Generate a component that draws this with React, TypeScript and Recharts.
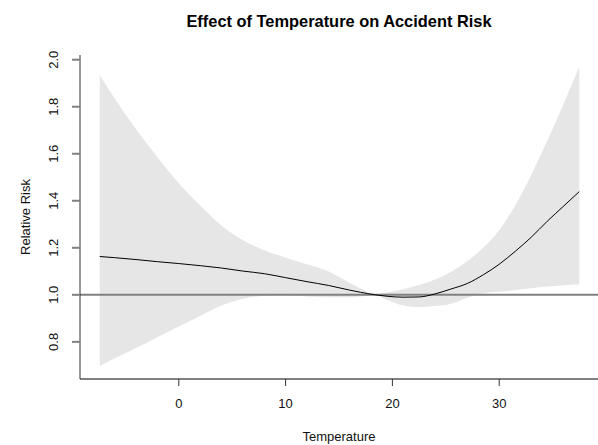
import { Area, ComposedChart, Line, ReferenceLine, XAxis, YAxis } from "recharts";

const temperature = [-7.4, -6, -4, -2, 0, 2, 4, 6, 8, 10, 12, 14, 16, 17, 18.4, 19.5, 21, 22.5, 24, 25.5, 27, 28.5, 30, 31.5, 33, 34.5, 36, 37.5];
const relativeRisk = [1.163, 1.158, 1.15, 1.141, 1.133, 1.124, 1.114, 1.101, 1.09, 1.073, 1.056, 1.04, 1.02, 1.011, 1.0, 0.994, 0.99, 0.991, 1.004, 1.025, 1.048, 1.085, 1.13, 1.185, 1.245, 1.313, 1.376, 1.439];
const lowerCI = [0.697, 0.73, 0.774, 0.82, 0.865, 0.91, 0.955, 0.982, 0.996, 0.998, 0.993, 0.99, 0.99, 0.993, 0.998, 0.978, 0.955, 0.948, 0.952, 0.962, 0.988, 1.007, 1.013, 1.02, 1.028, 1.035, 1.041, 1.045];
const upperCI = [1.934, 1.835, 1.705, 1.585, 1.475, 1.38, 1.295, 1.232, 1.19, 1.158, 1.13, 1.1, 1.05, 1.028, 1.003, 1.01, 1.024, 1.042, 1.065, 1.098, 1.143, 1.2, 1.275, 1.38, 1.51, 1.655, 1.81, 1.97];

const xTicks = [0, 10, 20, 30];
const yTicks = [0.8, 1.0, 1.2, 1.4, 1.6, 1.8, 2.0];

const font = "'Liberation Sans', Arial, sans-serif";

const data = temperature.map((t, i) => ({
  temp: t,
  rr: relativeRisk[i],
  band: [lowerCI[i], upperCI[i]]
}));

function YTick(props: any) {
  const { y, payload } = props;
  return (
    <text
      x={58}
      y={y}
      transform={`rotate(-90 58 ${y})`}
      textAnchor="middle"
      fontSize={13}
      fontFamily={font}
      fill="#111"
    >
      {Number(payload.value).toFixed(1)}
    </text>
  );
}

function XTick(props: any) {
  const { x, payload } = props;
  return (
    <text x={x} y={408} textAnchor="middle" fontSize={13} fontFamily={font} fill="#111">
      {payload.value}
    </text>
  );
}

export default function App() {
  return (
    <div style={{ position: "absolute", left: 0, top: 0, width: 598, height: 445, background: "#fff" }}>
      <ComposedChart
        width={598}
        height={445}
        data={data}
        margin={{ top: 55, right: 0, bottom: 26, left: 0 }}
      >
        <XAxis
          type="number"
          dataKey="temp"
          domain={[-9.25, 39.25]}
          ticks={xTicks}
          height={40}
          tickSize={7}
          axisLine={{ stroke: "#808080", strokeWidth: 2 }}
          tickLine={{ stroke: "#333", strokeWidth: 1 }}
          tick={<XTick />}
          allowDataOverflow
        />
        <YAxis
          type="number"
          domain={[0.642, 2.02]}
          ticks={yTicks}
          width={80}
          tickSize={8}
          axisLine={{ stroke: "#333", strokeWidth: 1 }}
          tickLine={{ stroke: "#808080", strokeWidth: 2 }}
          tick={<YTick />}
          allowDataOverflow
        />
        <Area
          type="monotone"
          dataKey="band"
          stroke="none"
          fill="#e6e6e6"
          fillOpacity={1}
          isAnimationActive={false}
        />
        <ReferenceLine y={1} stroke="#808080" strokeWidth={2} />
        <Line
          type="monotone"
          dataKey="rr"
          stroke="#000"
          strokeWidth={1}
          dot={false}
          isAnimationActive={false}
        />
      </ComposedChart>
      <svg
        width={598}
        height={445}
        style={{ position: "absolute", left: 0, top: 0, pointerEvents: "none" }}
      >
        <text x={339} y={27} textAnchor="middle" fontSize={16.4} fontWeight="bold" fontFamily={font} fill="#000">
          Effect of Temperature on Accident Risk
        </text>
        <text x={339} y={441} textAnchor="middle" fontSize={13} fontFamily={font} fill="#111">
          Temperature
        </text>
        <text
          x={30}
          y={217}
          transform="rotate(-90 30 217)"
          textAnchor="middle"
          fontSize={13}
          fontFamily={font}
          fill="#111"
        >
          Relative Risk
        </text>
      </svg>
    </div>
  );
}
